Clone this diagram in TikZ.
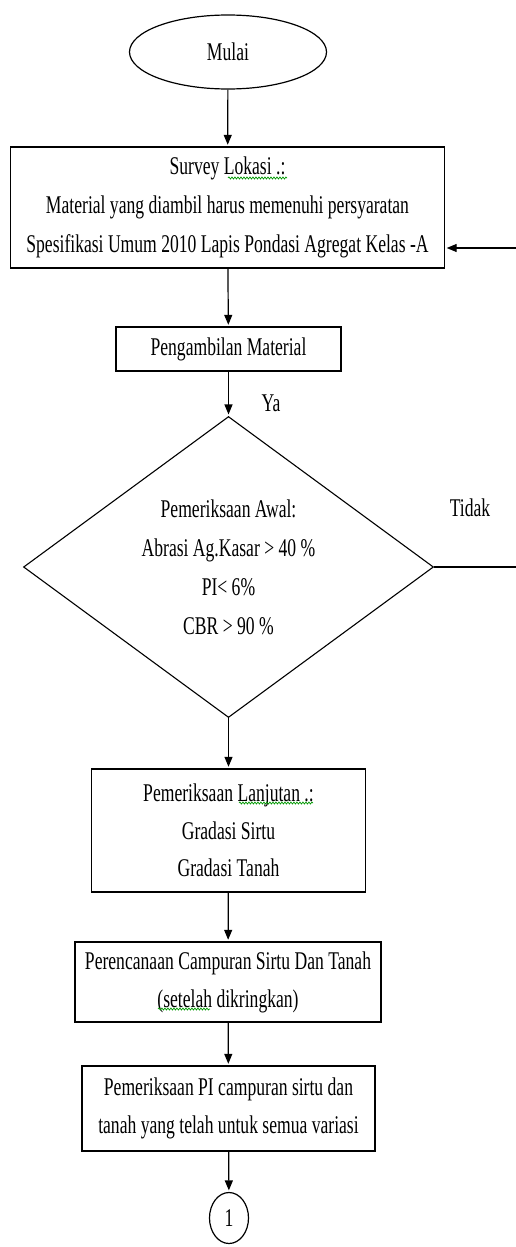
\documentclass[tikz,border=0pt]{standalone}
\usepackage{fontspec}
\setmainfont{Liberation Serif}[FakeStretch=0.69]
\usetikzlibrary{shapes.geometric,arrows.meta,decorations.pathmorphing}
\begin{document}
\begin{tikzpicture}[x=1pt,y=-1pt,
  every node/.style={font=\fontsize{25.5}{39}\selectfont, inner sep=0pt},
  box/.style={draw, line width=1.4pt, rectangle, align=center},
  arr/.style={line width=1.2pt, -{Triangle[length=10pt,width=8pt]}, shorten >=1.5pt},
  squig/.style={draw=green!60!black, line width=0.7pt, decorate, decoration={snake, amplitude=1pt, segment length=3pt}}]
\useasboundingbox[fill=white] (0,0) rectangle (516,1247);
\node[draw, ellipse, line width=1.2pt, minimum width=197pt, minimum height=74pt] (start) at (228,52) {Mulai};
\node[box, minimum width=434pt, minimum height=121pt] (survey) at (227.5,207.5) {Survey Lokasi .:\\Material yang diambil harus memenuhi persyaratan\\Spesifikasi Umum 2010 Lapis Pondasi Agregat Kelas -A};
\node[box, minimum width=225pt, minimum height=44pt] (ambil) at (228.5,349) {Pengambilan Material};
\node[draw, diamond, aspect=1.362, line width=1.1pt, align=center, minimum width=410pt, minimum height=301pt] (dia) at (228.5,567) {Pemeriksaan Awal:\\Abrasi Ag.Kasar > 40 \%\\PI< 6\%\\CBR > 90 \%};
\node[box, minimum width=274pt, minimum height=123pt, font=\fontsize{25.5}{37.5}\selectfont] (lanjut) at (228.5,830.5) {Pemeriksaan Lanjutan .:\\Gradasi Sirtu\\Gradasi Tanah};
\node[box, minimum width=306pt, minimum height=80pt, font=\fontsize{25.5}{38}\selectfont] (rencana) at (228,982) {Perencanaan Campuran Sirtu Dan Tanah\\(setelah dikringkan)};
\node[box, minimum width=293pt, minimum height=85pt, font=\fontsize{25.5}{38}\selectfont] (pi) at (228.5,1108.5) {Pemeriksaan PI campuran sirtu dan\\tanah yang telah untuk semua variasi};
\node[draw, ellipse, line width=1.2pt, minimum width=39pt, minimum height=51pt] (one) at (229,1218) {1};
\node (ya) at (271,403) {Ya};
\node (tidak) at (470,508) {Tidak};
\draw[arr] (start) -- (survey);
\draw[arr] (survey) -- (ambil);
\draw[arr] (ambil) -- (dia);
\draw[arr] (dia) -- (lanjut);
\draw[arr] (lanjut) -- (rencana);
\draw[arr] (rencana) -- (pi);
\draw[arr] (pi) -- (one);
\draw[arr] (dia.east) -- ++(95,0) |- ([yshift=-40.5pt]survey.east);
\path[squig] (228,178) -- (287,178);
\path[squig] (239,803) -- (313,803);
\path[squig] (158,1009) -- (210,1009);
\end{tikzpicture}
\end{document}
